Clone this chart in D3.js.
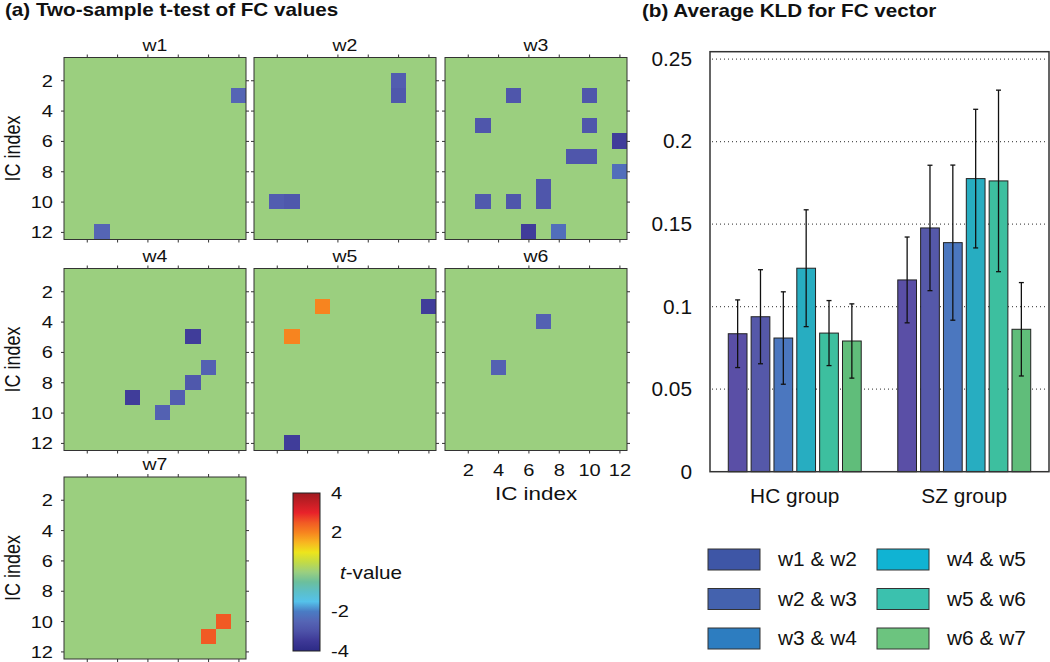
<!DOCTYPE html>
<html lang="en">
<head>
<meta charset="UTF-8">
<script src="https://cdn.jsdelivr.net/npm/d3@7/dist/d3.min.js"></script>
<title>FC t-test and KLD</title>
<style>
  body { margin: 0; background: #fff; }
  svg text { font-family: "Liberation Sans", Arial, Helvetica, sans-serif; fill: #111; }
</style>
</head>
<body>
<svg id="fig" width="1050" height="662"></svg>
<script>
// ---------- (a) data: significant cells per window, [row, col, t-value]
const icIndex = d3.range(1, 13);
const icTicks = [2, 4, 6, 8, 10, 12];
const windows = ['w1', 'w2', 'w3', 'w4', 'w5', 'w6', 'w7'];
const w1Cells = [[3, 12, -2.5], [12, 3, -2.5]];
const w2Cells = [[2, 10, -2.7], [3, 10, -2.85], [10, 2, -2.7], [10, 3, -2.85]];
const w3Cells = [[3, 5, -2.9], [5, 3, -2.9], [3, 10, -2.9], [10, 3, -2.8], [5, 10, -2.9], [10, 5, -2.9],
                 [6, 12, -3.4], [12, 6, -3.4], [7, 9, -2.9], [9, 7, -2.9], [7, 10, -2.9], [10, 7, -2.9],
                 [8, 12, -2.3], [12, 8, -2.3]];
const w4Cells = [[5, 9, -3.4], [9, 5, -3.4], [7, 10, -2.6], [10, 7, -2.6], [8, 9, -2.85], [9, 8, -2.7]];
const w5Cells = [[3, 5, 2.0], [5, 3, 2.0], [3, 12, -3.4], [12, 3, -3.4]];
const w6Cells = [[4, 7, -2.6], [7, 4, -2.6]];
const w7Cells = [[10, 11, 2.5], [11, 10, 2.5]];
const allCells = [w1Cells, w2Cells, w3Cells, w4Cells, w5Cells, w6Cells, w7Cells];

const tStops  = [-4, -3.5, -3, -2.5, -2, -1.5, -1, -0.5, 0, 0.5, 1, 1.5, 2, 2.5, 3, 4];
const tColors = ['#2c2a85', '#3d3896', '#4d52a8', '#5565b5', '#4a7cc4', '#55c2ea', '#5cbfc8', '#6cbf9c',
                 '#9bcf7f', '#c3db45', '#ede51c', '#f8b520', '#f7841f', '#f15a24', '#e8222a', '#a01a20'];
const tTicks = [-4, -2, 2, 4];

// ---------- (b) data
const groups = ['HC group', 'SZ group'];
const pairs = ['w1 & w2', 'w2 & w3', 'w3 & w4', 'w4 & w5', 'w5 & w6', 'w6 & w7'];
const hcMean = [0.0836, 0.0939, 0.0810, 0.1233, 0.0840, 0.0792];
const hcErr  = [0.0205, 0.0285, 0.0280, 0.0354, 0.0197, 0.0225];
const szMean = [0.1162, 0.1477, 0.1388, 0.1776, 0.1762, 0.0863];
const szErr  = [0.0260, 0.0380, 0.0470, 0.0420, 0.0550, 0.0283];
const kldTicks = [0, 0.05, 0.1, 0.15, 0.2, 0.25];
const barColors    = ['#5a4fa6', '#5558a9', '#4b77bf', '#27adc1', '#3dbf9f', '#60bd7a'];
const legendColors = ['#3e56a6', '#4462ae', '#2d7dc0', '#10b3d3', '#3bc1ae', '#6cc47f'];

const svg = d3.select('#fig');
const sxA = 1.18, sxB = 1.07;   // original figure is a bit wider than tall

function label(g, x, y, s, size, opt = {}) {
    const t = g.append('text')
        .attr('transform', `translate(${x},${y}) scale(${opt.sx || 1},1)` + (opt.rotate ? ` rotate(${opt.rotate})` : ''))
        .attr('font-size', size)
        .attr('text-anchor', opt.anchor || 'start')
        .text(s);
    if (opt.bold) t.attr('font-weight', 'bold');
    if (opt.dy) t.attr('dy', opt.dy);
    return t;
}

// ---------- (a) heatmaps
const tColor = d3.scaleLinear().domain(tStops).range(tColors);
const panelX = [64, 254, 445], panelY = [57.5, 268.5, 477], panelSize = 182;

label(svg, 5, 16, '(a) Two-sample t-test of FC values', 17.5, {bold: true, sx: sxA});

windows.forEach((w, i) => {
    const col = i % 3, row = Math.floor(i / 3);
    const x0 = panelX[col], y0 = panelY[row];
    const x = d3.scaleLinear().domain([0.5, 12.5]).range([x0, x0 + panelSize]);
    const y = d3.scaleLinear().domain([0.5, 12.5]).range([y0, y0 + panelSize]);
    const g = svg.append('g');

    const m = icIndex.flatMap(r => icIndex.map(c => ({r: r, c: c, t: 0})));
    allCells[i].forEach(([r, c, t]) => { m[(r - 1) * 12 + c - 1].t = t; });

    g.selectAll('rect.cell').data(m).join('rect')
        .attr('class', 'cell')
        .attr('x', d => x(d.c - 0.5))
        .attr('y', d => y(d.r - 0.5))
        .attr('width', x(1.5) - x(0.5))
        .attr('height', y(1.5) - y(0.5))
        .attr('fill', d => tColor(d.t))
        .attr('shape-rendering', 'crispEdges');

    g.append('rect')
        .attr('x', x0).attr('y', y0).attr('width', panelSize).attr('height', panelSize)
        .attr('fill', 'none').attr('stroke', '#333').attr('stroke-width', 1);

    // ticks on all four sides
    const sides = [
        [d3.axisTop(x), `translate(0,${y0})`],
        [d3.axisBottom(x), `translate(0,${y0 + panelSize})`],
        [d3.axisLeft(y), `translate(${x0},0)`],
        [d3.axisRight(y), `translate(${x0 + panelSize},0)`]
    ];
    sides.forEach(([ax, tr], k) => {
        ax.tickValues(icTicks).tickSize(3).tickFormat('');
        const a = g.append('g').attr('transform', tr).call(ax);
        a.select('.domain').remove();
        a.selectAll('.tick line').attr('stroke', '#333');
        if (k === 2 && col === 0) {
            a.selectAll('.tick text')
                .text(d => d)
                .attr('x', null).attr('dy', '0.35em')
                .attr('transform', `translate(-11,0) scale(${sxA},1)`)
                .attr('font-size', 17).attr('fill', '#111').attr('text-anchor', 'end');
        }
        if (k === 1 && w === 'w6') {
            a.selectAll('.tick text')
                .text(d => d)
                .attr('y', null).attr('dy', null)
                .attr('transform', `translate(0,25) scale(${sxA},1)`)
                .attr('font-size', 17).attr('fill', '#111').attr('text-anchor', 'middle');
        }
    });

    label(g, x0 + panelSize / 2, y0 - 7, w, 16.5, {anchor: 'middle', sx: sxA});
    if (col === 0) {
        label(g, 20, y0 + panelSize / 2, 'IC index', 18, {anchor: 'middle', sx: sxA, rotate: -90});
    }
    if (w === 'w6') {
        label(g, x0 + panelSize / 2, 500, 'IC index', 19, {anchor: 'middle', sx: sxA});
    }
});

// colour bar
const cbX = 293, cbW = 27;
const cbY = d3.scaleLinear().domain([-4, 4]).range([651, 493]);
const grad = svg.append('defs').append('linearGradient')
    .attr('id', 'tgrad').attr('x1', 0).attr('y1', 1).attr('x2', 0).attr('y2', 0);
grad.selectAll('stop').data(tStops).join('stop')
    .attr('offset', d => (d + 4) / 8)
    .attr('stop-color', d => tColor(d));
svg.append('rect')
    .attr('x', cbX).attr('y', cbY(4)).attr('width', cbW).attr('height', cbY(-4) - cbY(4))
    .attr('fill', 'url(#tgrad)').attr('stroke', '#222').attr('stroke-width', 1);
tTicks.forEach(t => {
    label(svg, 331, cbY(t), String(t), 17, {sx: sxA, dy: '0.35em'});
});
const tv = label(svg, 340, 579, '', 17.5, {sx: sxA});
tv.append('tspan').attr('font-style', 'italic').text('t');
tv.append('tspan').text('-value');

// ---------- (b) bar chart
label(svg, 642, 17, '(b) Average KLD for FC vector', 17.5, {bold: true, sx: sxA});

const bx0 = 710, bx1 = 1049, by0 = 471.7, by1 = 51.7;
const yK = d3.scaleLinear().domain([0, 0.2545]).range([by0, by1]);
const xG = d3.scaleBand().domain(groups).range([bx0, bx1]);
const xP = d3.scaleBand().domain(pairs).range([0, xG.bandwidth()]).paddingInner(0.18).paddingOuter(0.8);

const bg = svg.append('g');
bg.selectAll('line.grid').data(kldTicks.filter(d => d > 0)).join('line')
    .attr('class', 'grid')
    .attr('x1', bx0 + 2).attr('x2', bx1 - 2)
    .attr('y1', d => yK(d)).attr('y2', d => yK(d))
    .attr('stroke', '#555').attr('stroke-width', 1.2).attr('stroke-dasharray', '1,3');

kldTicks.forEach(v => {
    label(bg, 692, yK(v), d3.format('')(v), 19.5, {anchor: 'end', sx: sxB, dy: '0.35em'});
});

const barData = groups.flatMap((gname, gi) => pairs.map((p, pi) => ({
    g: gname, p: p, i: pi,
    v: gi === 0 ? hcMean[pi] : szMean[pi],
    e: gi === 0 ? hcErr[pi] : szErr[pi]
})));

bg.selectAll('rect.bar').data(barData).join('rect')
    .attr('class', 'bar')
    .attr('x', d => xG(d.g) + xP(d.p))
    .attr('y', d => yK(d.v))
    .attr('width', xP.bandwidth())
    .attr('height', d => yK(0) - yK(d.v))
    .attr('fill', d => barColors[d.i])
    .attr('stroke', '#222').attr('stroke-width', 1);

const eb = bg.selectAll('g.err').data(barData).join('g').attr('class', 'err')
    .attr('transform', d => `translate(${xG(d.g) + xP(d.p) + xP.bandwidth() / 2},0)`);
eb.append('line').attr('x1', 0).attr('x2', 0)
    .attr('y1', d => yK(d.v - d.e)).attr('y2', d => yK(d.v + d.e));
eb.append('line').attr('x1', -2.5).attr('x2', 2.5)
    .attr('y1', d => yK(d.v + d.e)).attr('y2', d => yK(d.v + d.e));
eb.append('line').attr('x1', -2.5).attr('x2', 2.5)
    .attr('y1', d => yK(d.v - d.e)).attr('y2', d => yK(d.v - d.e));
eb.selectAll('line').attr('stroke', '#111').attr('stroke-width', 1.3);

bg.append('rect')
    .attr('x', bx0).attr('y', by1).attr('width', bx1 - bx0).attr('height', by0 - by1)
    .attr('fill', 'none').attr('stroke', '#333').attr('stroke-width', 1.5);

groups.forEach(gname => {
    label(bg, xG(gname) + xG.bandwidth() / 2, 503, gname, 19.5, {anchor: 'middle', sx: sxB});
});

// legend, two columns of three
const legX = [708, 877], legY = [549, 588.5, 628];
pairs.forEach((p, i) => {
    const lx = legX[Math.floor(i / 3)], ly = legY[i % 3];
    bg.append('rect')
        .attr('x', lx).attr('y', ly).attr('width', 52).attr('height', 21)
        .attr('fill', legendColors[i]).attr('stroke', '#333').attr('stroke-width', 1);
    label(bg, lx + 70, ly + 17, p, 19.5, {sx: sxB});
});
</script>
</body>
</html>
